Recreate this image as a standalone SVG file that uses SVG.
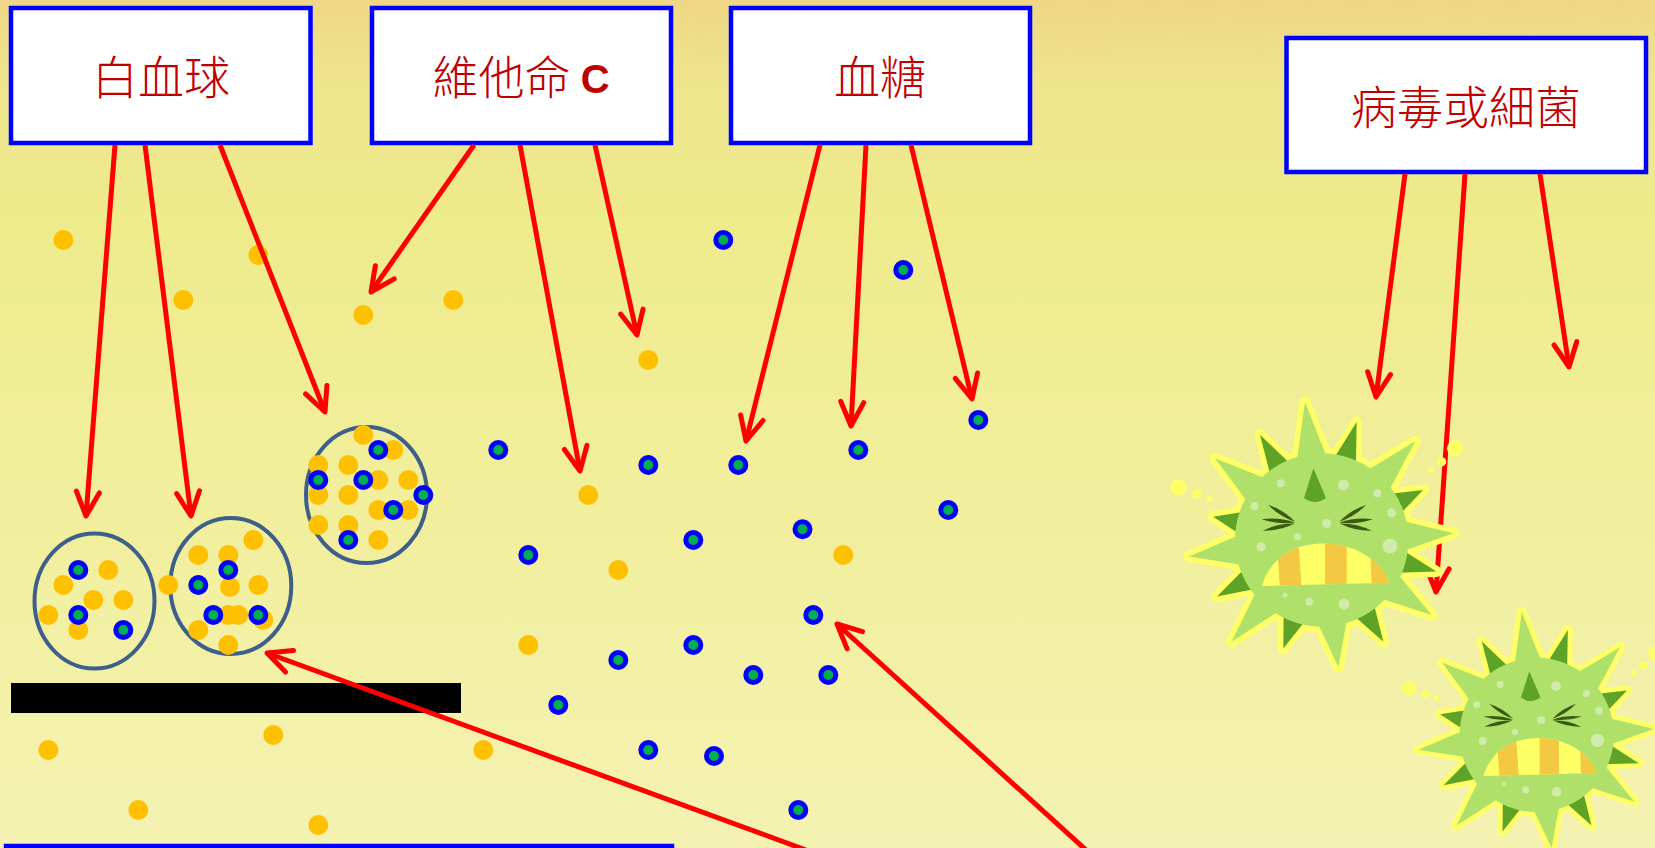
<svg xmlns="http://www.w3.org/2000/svg" xmlns:xlink="http://www.w3.org/1999/xlink" width="1655" height="848" viewBox="0 0 1655 848">
  <defs>
    <linearGradient id="bg" x1="0" y1="0" x2="0" y2="1">
      <stop offset="0" stop-color="#EFD98A"/>
      <stop offset="0.07" stop-color="#EEE38C"/>
      <stop offset="0.25" stop-color="#EEEB8C"/>
      <stop offset="0.6" stop-color="#F1EF9C"/>
      <stop offset="1" stop-color="#F4F2B2"/>
    </linearGradient>
    <linearGradient id="topTint" x1="0" y1="0" x2="1" y2="0">
      <stop offset="0" stop-color="#F2D27E" stop-opacity="0.25"/>
      <stop offset="0.6" stop-color="#F2D27E" stop-opacity="0.45"/>
      <stop offset="1" stop-color="#F2D27E" stop-opacity="0.4"/>
    </linearGradient>
    <linearGradient id="topFade" x1="0" y1="0" x2="0" y2="1">
      <stop offset="0" stop-color="#fff" stop-opacity="1"/>
      <stop offset="1" stop-color="#fff" stop-opacity="0"/>
    </linearGradient>
    <mask id="topMask">
      <rect x="0" y="0" width="1655" height="70" fill="url(#topFade)"/>
    </mask>

    <marker id="arrow" markerUnits="userSpaceOnUse" viewBox="-30 -20 40 40" markerWidth="40" markerHeight="40" refX="0" refY="0" orient="auto" overflow="visible">
      <path d="M-24,-11.5 L0,0 L-24,11.5" fill="none" stroke="#FF0000" stroke-width="5" stroke-linecap="round" stroke-linejoin="round"/>
    </marker>

    <!-- one eye: three lens-shaped strokes meeting at a point -->
    <g id="eye">
      <path d="M-53.3,-35 Q-42.1,-23.3 -26.7,-18.3 Q-37.9,-30 -53.3,-35 Z"/>
      <path d="M-60,-20.7 Q-43.7,-15.1 -26.7,-17.5 Q-43,-23.1 -60,-20.7 Z"/>
      <path d="M-59,-9.3 Q-42.1,-9 -27,-16.5 Q-43.9,-16.8 -59,-9.3 Z"/>
    </g>

    <clipPath id="mouthClip">
      <path d="M-60,46 C-52,20 -30,4 0,3.5 C35,3 60,22 67.3,42.7 Z"/>
    </clipPath>

    <!-- germ figure, drawn around its body centre -->
    <g id="germ">
      <!-- yellow glow outline of body and spikes -->
      <g fill="#FFFF66" stroke="#FFFF66" stroke-width="11" stroke-linejoin="round">
        <circle r="86.7"/>
        <path d="M-16,-78 L0,-139 L16,-78Z" transform="rotate(-6.9)"/>
        <path d="M-12,-80 L0,-123 L12,-80Z" transform="rotate(16.5)"/>
        <path d="M-16,-78 L0,-136 L16,-78Z" transform="rotate(43.5)"/>
        <path d="M-12,-80 L0,-113 L12,-80Z" transform="rotate(63.8)"/>
        <path d="M-16,-78 L0,-132 L16,-78Z" transform="rotate(87.1)"/>
        <path d="M-12,-80 L0,-119 L12,-80Z" transform="rotate(105.4)"/>
        <path d="M-16,-78 L0,-133 L16,-78Z" transform="rotate(124.3)"/>
        <path d="M-12,-80 L0,-119 L12,-80Z" transform="rotate(148.8)"/>
        <path d="M-16,-78 L0,-128 L16,-78Z" transform="rotate(172.5)"/>
        <path d="M-12,-80 L0,-115 L12,-80Z" transform="rotate(199.5)"/>
        <path d="M-16,-78 L0,-136 L16,-78Z" transform="rotate(221.5)"/>
        <path d="M-12,-80 L0,-119 L12,-80Z" transform="rotate(241.6)"/>
        <path d="M-16,-78 L0,-134 L16,-78Z" transform="rotate(262.9)"/>
        <path d="M-12,-80 L0,-111 L12,-80Z" transform="rotate(282.1)"/>
        <path d="M-16,-78 L0,-134 L16,-78Z" transform="rotate(307.4)"/>
        <path d="M-12,-80 L0,-122 L12,-80Z" transform="rotate(329.6)"/>
      </g>
      <!-- long spikes -->
      <g fill="#AEE06A">
        <path d="M-16,-78 L0,-139 L16,-78Z" transform="rotate(-6.9)"/>
        <path d="M-16,-78 L0,-136 L16,-78Z" transform="rotate(43.5)"/>
        <path d="M-16,-78 L0,-132 L16,-78Z" transform="rotate(87.1)"/>
        <path d="M-16,-78 L0,-133 L16,-78Z" transform="rotate(124.3)"/>
        <path d="M-16,-78 L0,-128 L16,-78Z" transform="rotate(172.5)"/>
        <path d="M-16,-78 L0,-136 L16,-78Z" transform="rotate(221.5)"/>
        <path d="M-16,-78 L0,-134 L16,-78Z" transform="rotate(262.9)"/>
        <path d="M-16,-78 L0,-134 L16,-78Z" transform="rotate(307.4)"/>
      </g>
      <!-- short spikes -->
      <g fill="#5EA226">
        <path d="M-12,-80 L0,-123 L12,-80Z" transform="rotate(16.5)"/>
        <path d="M-12,-80 L0,-113 L12,-80Z" transform="rotate(63.8)"/>
        <path d="M-12,-80 L0,-119 L12,-80Z" transform="rotate(105.4)"/>
        <path d="M-12,-80 L0,-119 L12,-80Z" transform="rotate(148.8)"/>
        <path d="M-12,-80 L0,-115 L12,-80Z" transform="rotate(199.5)"/>
        <path d="M-12,-80 L0,-119 L12,-80Z" transform="rotate(241.6)"/>
        <path d="M-12,-80 L0,-111 L12,-80Z" transform="rotate(282.1)"/>
        <path d="M-12,-80 L0,-122 L12,-80Z" transform="rotate(329.6)"/>
      </g>
      <!-- body -->
      <circle r="86.7" fill="#AEE06A"/>
      <!-- spots -->
      <g fill="#D0EBAA">
        <circle cx="-41" cy="-56.7" r="4"/>
        <circle cx="21.7" cy="-55" r="5.5"/>
        <circle cx="55.7" cy="-46.7" r="4"/>
        <circle cx="-67.3" cy="-34" r="4"/>
        <circle cx="70" cy="-27.3" r="4.5"/>
        <circle cx="5" cy="-16.7" r="4.5"/>
        <circle cx="-24.3" cy="-3.3" r="3.5"/>
        <circle cx="-60.7" cy="6.7" r="4.5"/>
        <circle cx="68.3" cy="6" r="7.5"/>
        <circle cx="-36.7" cy="55" r="2.5"/>
        <circle cx="-12.3" cy="61.7" r="4"/>
        <circle cx="22.3" cy="64" r="5.5"/>
      </g>
      <!-- horn -->
      <path d="M-8.3,-71.7 L4.3,-42 Q-6.7,-34 -17.7,-42 Z" fill="#5EA226"/>
      <!-- squeezed eyes -->
      <g fill="#3D5A12">
        <use xlink:href="#eye"/>
        <use xlink:href="#eye" transform="translate(-9,0) scale(-1,1)"/>
      </g>
      <!-- mouth with teeth stripes -->
      <path d="M-60,46 C-52,20 -30,4 0,3.5 C35,3 60,22 67.3,42.7 Z" fill="#FFFF66"/>
      <g clip-path="url(#mouthClip)" fill="#F3C843">
        <path d="M-45,0 L-23.3,0 L-20,50 L-41.7,50 Z"/>
        <path d="M3.3,0 L25,0 L25,50 L3.3,50 Z"/>
        <path d="M48.3,0 L80,0 L80,50 L50,50 Z"/>
      </g>
      <!-- sneeze droplets -->
      <g fill="#FFFF66">
        <circle cx="-143.4" cy="-52.7" r="8"/>
        <circle cx="-125" cy="-46" r="4.5"/>
        <circle cx="-112.7" cy="-41" r="3"/>
        <circle cx="133.3" cy="-91.7" r="8"/>
        <circle cx="120" cy="-78.3" r="4.5"/>
        <circle cx="109.3" cy="-70" r="3"/>
      </g>
    </g>
  </defs>

  <style>
    .box { fill: #FFFFFF; stroke: #0000FF; stroke-width: 4.5; }
    .label { font-family: "Noto Sans CJK TC", "Noto Sans CJK SC", sans-serif; font-size: 46px; fill: #C00000; text-anchor: middle; dominant-baseline: central; font-weight: 300; }
    .latin { font-family: "Liberation Sans", Arial, sans-serif; font-size: 40px; font-weight: bold; }
    .link { fill: none; stroke: #FF0000; stroke-width: 5; marker-end: url(#arrow); }
    .cell { fill: none; stroke: #3E5F8A; stroke-width: 4; }
    .o { fill: #FFC000; }
    .g { fill: #00B050; stroke: #0000FF; stroke-width: 5; }
  </style>

  <!-- background -->
  <rect x="0" y="0" width="1655" height="848" fill="url(#bg)"/>
  <rect x="0" y="0" width="1655" height="70" fill="url(#topTint)" mask="url(#topMask)"/>

  <!-- label boxes -->
  <g id="node-wbc">
    <rect class="box" x="11" y="8" width="299.5" height="135"/>
    <text class="label" x="161" y="74">白血球</text>
  </g>
  <g id="node-vitc">
    <rect class="box" x="372" y="8" width="299" height="135"/>
    <text class="label" x="521" y="74">維他命 <tspan class="latin" dy="5">C</tspan></text>
  </g>
  <g id="node-sugar">
    <rect class="box" x="731" y="8" width="299" height="135"/>
    <text class="label" x="880" y="74">血糖</text>
  </g>
  <g id="node-germ">
    <rect class="box" x="1286.5" y="38" width="359.5" height="134"/>
    <text class="label" x="1466" y="104">病毒或細菌</text>
  </g>

  <!-- partial box at the bottom edge -->
  <g id="node-bottom">
    <rect class="box" x="6" y="846" width="666" height="60"/>
  </g>

  <!-- black bar -->
  <rect id="bar" x="11" y="683" width="450" height="30" fill="#000000"/>

  <!-- cells -->
  <g id="cells">
    <ellipse class="cell" cx="94.5" cy="601" rx="60" ry="67.5"/>
    <ellipse class="cell" cx="230.8" cy="586" rx="60.5" ry="68"/>
    <ellipse class="cell" cx="366.5" cy="495" rx="60.5" ry="68"/>
  </g>

  <!-- particles inside the cells -->
  <g id="cell-particles">
    <circle class="o" cx="108.3" cy="570" r="10"/>
    <circle class="o" cx="63.3" cy="585" r="10"/>
    <circle class="o" cx="93.3" cy="600" r="10"/>
    <circle class="o" cx="123.3" cy="600" r="10"/>
    <circle class="o" cx="48.3" cy="615" r="10"/>
    <circle class="o" cx="78.3" cy="630" r="10"/>
    <circle class="g" cx="78.3" cy="570" r="7.5"/>
    <circle class="g" cx="78.3" cy="615" r="7.5"/>
    <circle class="g" cx="123.3" cy="630" r="7.5"/>

    <circle class="o" cx="253.3" cy="540" r="10"/>
    <circle class="o" cx="198.3" cy="555" r="10"/>
    <circle class="o" cx="228.3" cy="555" r="10"/>
    <circle class="o" cx="168.3" cy="585" r="10"/>
    <circle class="o" cx="230" cy="587" r="10"/>
    <circle class="o" cx="258.3" cy="585" r="10"/>
    <circle class="o" cx="228.3" cy="615" r="10"/>
    <circle class="o" cx="238.3" cy="615" r="10"/>
    <circle class="o" cx="263.3" cy="620" r="10"/>
    <circle class="o" cx="198.3" cy="630" r="10"/>
    <circle class="o" cx="228.3" cy="645" r="10"/>
    <circle class="g" cx="228.3" cy="570" r="7.5"/>
    <circle class="g" cx="198.3" cy="585" r="7.5"/>
    <circle class="g" cx="213.3" cy="615" r="7.5"/>
    <circle class="g" cx="258.3" cy="615" r="7.5"/>

    <circle class="o" cx="363.3" cy="435" r="10"/>
    <circle class="o" cx="393.3" cy="450" r="10"/>
    <circle class="o" cx="318.3" cy="465" r="10"/>
    <circle class="o" cx="348.3" cy="465" r="10"/>
    <circle class="o" cx="378.3" cy="480" r="10"/>
    <circle class="o" cx="408.3" cy="480" r="10"/>
    <circle class="o" cx="318.3" cy="495" r="10"/>
    <circle class="o" cx="348.3" cy="495" r="10"/>
    <circle class="o" cx="378.3" cy="510" r="10"/>
    <circle class="o" cx="408.3" cy="510" r="10"/>
    <circle class="o" cx="318.3" cy="525" r="10"/>
    <circle class="o" cx="348.3" cy="525" r="10"/>
    <circle class="o" cx="378.3" cy="540" r="10"/>
    <circle class="g" cx="378.3" cy="450" r="7.5"/>
    <circle class="g" cx="318.3" cy="480" r="7.5"/>
    <circle class="g" cx="363.3" cy="480" r="7.5"/>
    <circle class="g" cx="423.3" cy="495" r="7.5"/>
    <circle class="g" cx="393.3" cy="510" r="7.5"/>
    <circle class="g" cx="348.3" cy="540" r="7.5"/>
  </g>

  <!-- free particles -->
  <g id="particles">
    <circle class="o" cx="63.3" cy="240" r="10"/>
    <circle class="o" cx="258.3" cy="255" r="10"/>
    <circle class="o" cx="183.3" cy="300" r="10"/>
    <circle class="o" cx="363.3" cy="315" r="10"/>
    <circle class="o" cx="453.3" cy="300" r="10"/>
    <circle class="o" cx="648.3" cy="360" r="10"/>
    <circle class="o" cx="588.3" cy="495" r="10"/>
    <circle class="o" cx="618.3" cy="570" r="10"/>
    <circle class="o" cx="528.3" cy="645" r="10"/>
    <circle class="o" cx="843.3" cy="555" r="10"/>
    <circle class="o" cx="483.3" cy="750" r="10"/>
    <circle class="o" cx="273.3" cy="735" r="10"/>
    <circle class="o" cx="48.3" cy="750" r="10"/>
    <circle class="o" cx="138.3" cy="810" r="10"/>
    <circle class="o" cx="318.3" cy="825" r="10"/>

    <circle class="g" cx="723.3" cy="240" r="7.5"/>
    <circle class="g" cx="903.3" cy="270" r="7.5"/>
    <circle class="g" cx="498.3" cy="450" r="7.5"/>
    <circle class="g" cx="648.3" cy="465" r="7.5"/>
    <circle class="g" cx="738.3" cy="465" r="7.5"/>
    <circle class="g" cx="858.3" cy="450" r="7.5"/>
    <circle class="g" cx="978.3" cy="420" r="7.5"/>
    <circle class="g" cx="948.3" cy="510" r="7.5"/>
    <circle class="g" cx="802.5" cy="529.3" r="7.5"/>
    <circle class="g" cx="693.3" cy="540" r="7.5"/>
    <circle class="g" cx="528.3" cy="555" r="7.5"/>
    <circle class="g" cx="813.3" cy="615" r="7.5"/>
    <circle class="g" cx="693.3" cy="645" r="7.5"/>
    <circle class="g" cx="618.3" cy="660" r="7.5"/>
    <circle class="g" cx="753.3" cy="675" r="7.5"/>
    <circle class="g" cx="828.3" cy="675" r="7.5"/>
    <circle class="g" cx="558.3" cy="705" r="7.5"/>
    <circle class="g" cx="648.3" cy="750" r="7.5"/>
    <circle class="g" cx="714" cy="756" r="7.5"/>
    <circle class="g" cx="798.3" cy="810" r="7.5"/>
  </g>

  <!-- connectors -->
  <g id="connectors">
    <path class="link" d="M115,145 L86,516"/>
    <path class="link" d="M145,145 L191,516"/>
    <path class="link" d="M220,145 L325,412"/>
    <path class="link" d="M474,145 L371,292"/>
    <path class="link" d="M520,145 L580,471"/>
    <path class="link" d="M595,145 L637,335"/>
    <path class="link" d="M820,145 L746,441"/>
    <path class="link" d="M866,145 L851,426"/>
    <path class="link" d="M911,145 L972,399"/>
    <path class="link" d="M1405,174 L1376,397"/>
    <path class="link" d="M1465,174 L1436,592"/>
    <path class="link" d="M1540,174 L1569,367"/>
    <path class="link" d="M806,850 L267,653"/>
    <path class="link" d="M1086,850 L837,624"/>
  </g>

  <!-- germs -->
  <g id="germ-1">
    <use xlink:href="#germ" transform="translate(1321.7,540)"/>
  </g>
  <g id="germ-2">
    <use xlink:href="#germ" transform="translate(1536.7,735) scale(0.89)"/>
  </g>
</svg>
